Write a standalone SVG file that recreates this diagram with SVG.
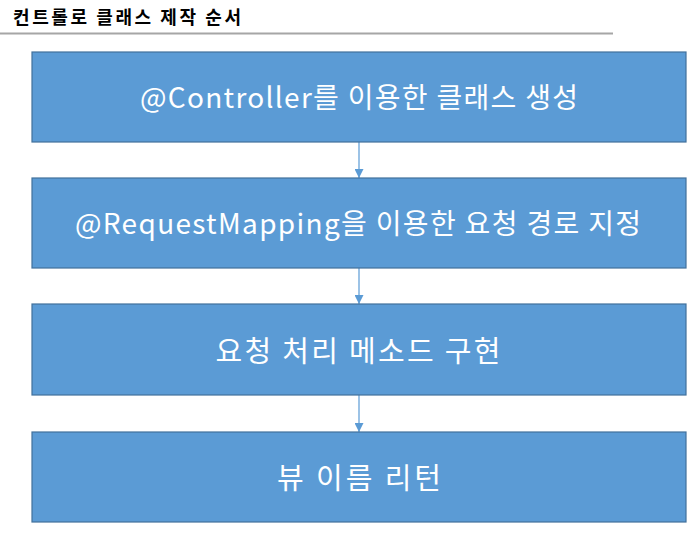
<svg xmlns="http://www.w3.org/2000/svg" width="694" height="540" viewBox="0 0 694 540">
<defs>
<style>
.box{fill:#5B9BD5;stroke:#41719C;stroke-width:1.2}
.lbl{font-family:"Noto Sans CJK KR","Noto Sans",sans-serif;font-size:28px;fill:#ffffff;text-anchor:middle;dominant-baseline:central}
.ko{font-size:29px}
.title{font-family:"Noto Sans CJK KR",sans-serif;font-size:18px;font-weight:bold;fill:#000}
.conn{stroke:#5B9BD5;stroke-width:1.2;fill:none}
</style>
<marker id="ah" viewBox="0 0 10 10" refX="10" refY="5" markerWidth="9" markerHeight="9" markerUnits="userSpaceOnUse" orient="auto">
<path d="M0,0 L10,5 L0,10 z" fill="#5B9BD5"/>
</marker>
</defs>
<rect width="694" height="540" fill="#ffffff"/>
<g id="title">
<text class="title" x="13" y="24" textLength="228">컨트롤로 클래스 제작 순서</text>
<line x1="0" y1="33.5" x2="613" y2="33.5" stroke="#A6A6A6" stroke-width="2"/>
</g>
<g id="connectors">
<line class="conn" x1="359" y1="142" x2="359" y2="178" marker-end="url(#ah)"/>
<line class="conn" x1="359" y1="268" x2="359" y2="304" marker-end="url(#ah)"/>
<line class="conn" x1="359" y1="395" x2="359" y2="432" marker-end="url(#ah)"/>
</g>
<g id="node1">
<rect class="box" x="32" y="52" width="654" height="90"/>
<text class="lbl" x="359" y="96" textLength="438">@Controller를 이용한 클래스 생성</text>
</g>
<g id="node2">
<rect class="box" x="32" y="178" width="654" height="90"/>
<text class="lbl" x="358" y="222" textLength="566">@RequestMapping을 이용한 요청 경로 지정</text>
</g>
<g id="node3">
<rect class="box" x="32" y="304" width="654" height="91"/>
<text class="lbl ko" x="358" y="349" textLength="285">요청 처리 메소드 구현</text>
</g>
<g id="node4">
<rect class="box" x="32" y="432" width="654" height="90"/>
<text class="lbl ko" x="359" y="476" textLength="164">뷰 이름 리턴</text>
</g>
</svg>
